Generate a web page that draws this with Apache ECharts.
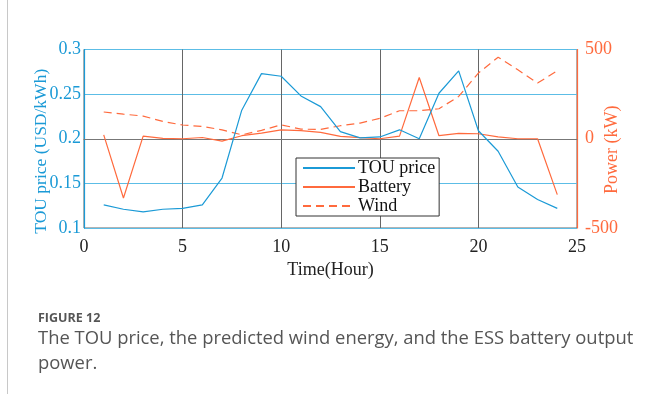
<!DOCTYPE html>
<html>
<head>
<meta charset="utf-8">
<script src="https://cdn.jsdelivr.net/npm/echarts@6/dist/echarts.min.js"></script>
<style>
  html, body { margin: 0; padding: 0; background: #fff; }
  #chart { width: 645px; height: 394px; }
</style>
</head>
<body>
<div id="chart"></div>
<script>
// Hours of the day
const hours = [1,2,3,4,5,6,7,8,9,10,11,12,13,14,15,16,17,18,19,20,21,22,23,24];
// Time-of-use electricity price (USD/kWh)
const touPrice = [0.126,0.121,0.118,0.121,0.122,0.126,0.156,0.232,0.273,0.270,0.248,0.236,0.208,0.201,0.202,0.210,0.200,0.251,0.276,0.209,0.186,0.146,0.132,0.122];
// ESS battery output power (kW)
const batteryPower = [22,-332,15,2,0,7,-13,17,32,50,45,36,13,6,0,15,343,17,30,28,11,0,0,-313];
// Predicted wind power (kW)
const windPower = [150,138,127,97,77,69,50,22,47,78,54,52,73,88,114,157,157,168,237,368,457,386,312,381];
// Axis ticks
const xTicks = [0,5,10,15,20,25];
const priceTicks = [0.1,0.15,0.2,0.25,0.3];
const powerTicks = [-500,0,500];

const BLUE = '#1b9ad6';
const ORANGE = '#ff6a3d';
const serif = '"Liberation Serif", "Times New Roman", serif';

const pairs = (ys) => hours.map((h, i) => [h, ys[i]]);

const chart = echarts.init(document.getElementById('chart'), null, { renderer: 'canvas' });
chart.setOption({
  animation: false,
  backgroundColor: '#fff',
  grid: {
    left: 84, right: 68, top: 49.5, bottom: 166,
    containLabel: false, outerBoundsMode: 'none',
    show: true, borderColor: '#666', borderWidth: 1, backgroundColor: 'transparent'
  },
  legend: {
    orient: 'vertical',
    left: 296, top: 158,
    backgroundColor: '#fff',
    borderColor: '#333', borderWidth: 1,
    padding: [1, 4, 1, 6],
    itemGap: 1,
    itemWidth: 52, itemHeight: 14,
    itemStyle: { color: 'transparent', borderColor: 'transparent', borderWidth: 0, opacity: 0 },
    textStyle: { fontFamily: serif, fontSize: 18, color: '#111', padding: [0, 0, 0, -2] },
    data: ['TOU price', 'Battery', 'Wind']
  },
  xAxis: {
    type: 'value',
    min: xTicks[0], max: xTicks[xTicks.length - 1], interval: 5,
    name: 'Time(Hour)', nameLocation: 'middle', nameGap: 33, nameMoveOverlap: false,
    nameTextStyle: { fontFamily: serif, fontSize: 18, color: '#222' },
    axisLine: { lineStyle: { color: '#777', width: 1 } },
    axisTick: { show: false },
    axisLabel: { fontFamily: serif, fontSize: 18, color: '#222', margin: 10 },
    splitLine: { show: true, lineStyle: { color: '#666', width: 1 } }
  },
  yAxis: [
    {
      type: 'value',
      min: priceTicks[0], max: priceTicks[priceTicks.length - 1], interval: 0.05,
      name: 'TOU price (USD/kWh)', nameLocation: 'middle', nameGap: 34, nameRotate: 90,
      nameMoveOverlap: false,
      nameTextStyle: { fontFamily: serif, fontSize: 17.5, color: BLUE, padding: [0, 25, 0, 0] },
      axisLine: { show: true, lineStyle: { color: BLUE, width: 1.2 } },
      axisTick: { show: false },
      axisLabel: { fontFamily: serif, fontSize: 18, color: BLUE, margin: 3 },
      splitLine: { show: true, lineStyle: { color: '#5cbde6', width: 1.2 } }
    },
    {
      type: 'value',
      position: 'right',
      min: powerTicks[0], max: powerTicks[powerTicks.length - 1], interval: 500,
      name: 'Power (kW)', nameLocation: 'middle', nameGap: 26, nameRotate: 90,
      nameMoveOverlap: false,
      nameTextStyle: { fontFamily: serif, fontSize: 18, color: ORANGE, padding: [0, 22, 0, 0] },
      axisLine: { show: true, lineStyle: { color: ORANGE, width: 1.2 } },
      axisTick: { show: false },
      axisLabel: { fontFamily: serif, fontSize: 18, color: ORANGE, margin: 8 },
      splitLine: { show: false }
    }
  ],
  series: [
    {
      name: 'TOU price', type: 'line', yAxisIndex: 0, symbol: 'none',
      data: pairs(touPrice),
      lineStyle: { color: BLUE, width: 1.2 }, itemStyle: { color: BLUE }, z: 3
    },
    {
      name: 'Battery', type: 'line', yAxisIndex: 1, symbol: 'none',
      data: pairs(batteryPower),
      lineStyle: { color: ORANGE, width: 1.2 }, itemStyle: { color: ORANGE }, z: 2
    },
    {
      name: 'Wind', type: 'line', yAxisIndex: 1, symbol: 'none',
      data: pairs(windPower),
      lineStyle: { color: ORANGE, width: 1.2, type: [8, 5] }, itemStyle: { color: ORANGE }, z: 2
    }
  ],
  graphic: [
    { type: 'line', shape: { x1: 7.5, y1: 0, x2: 7.5, y2: 394 }, style: { stroke: '#c8c8c8', lineWidth: 1 } },
    { type: 'text', left: 38, top: 312,
      style: { text: 'FIGURE 12', font: 'bold 12.5px "Open Sans", sans-serif', fill: '#555' } },
    { type: 'text', left: 38, top: 326,
      style: { text: 'The TOU price, the predicted wind energy, and the ESS battery output\npower.',
               font: '18.4px "Open Sans", sans-serif', fill: '#555', lineHeight: 25 } }
  ]
});
</script>
</body>
</html>
